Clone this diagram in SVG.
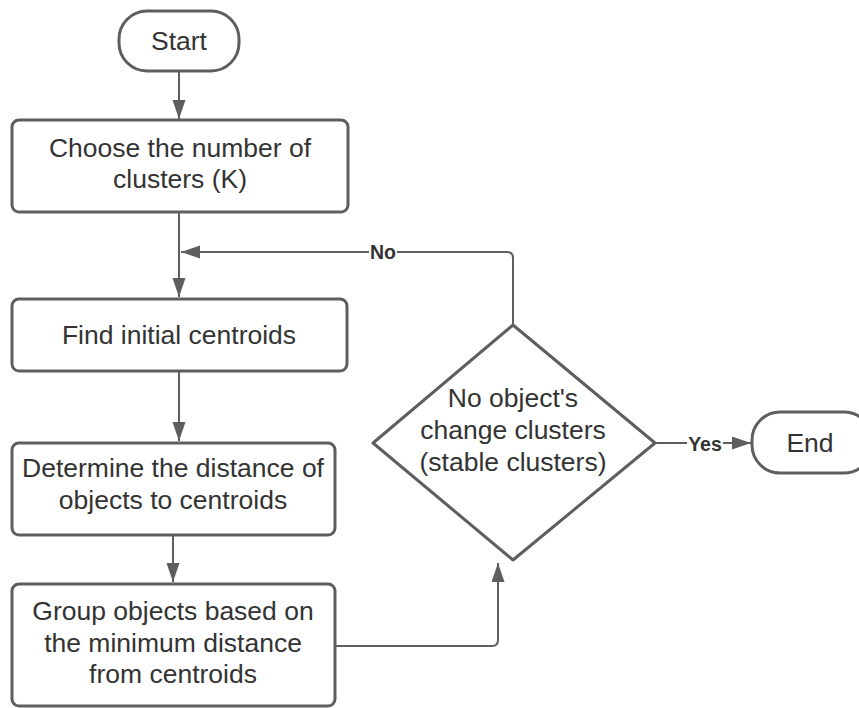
<svg xmlns="http://www.w3.org/2000/svg" width="859" height="708" viewBox="0 0 859 708">
  <style>
    .shape { fill: #ffffff; stroke: #5e5e5e; stroke-width: 3; }
    .label { font-family: "Liberation Sans", Arial, sans-serif; font-size: 26.5px; fill: #333333; text-anchor: middle; }
    .edge { fill: none; stroke: #5e5e5e; stroke-width: 2; }
    .tag { font-family: "Liberation Sans", Arial, sans-serif; font-size: 19.5px; font-weight: bold; fill: #333333; text-anchor: middle; }
    .tagbg { fill: #ffffff; }
  </style>
  <defs>
    <marker id="arrow" markerUnits="userSpaceOnUse" markerWidth="20" markerHeight="14" refX="19" refY="6.5" orient="auto">
      <path d="M0,0 L19,6.5 L0,13 Z" fill="#5e5e5e"/>
    </marker>
  </defs>
  <rect width="859" height="708" fill="#ffffff"/>

  <!-- connectors -->
  <g id="connectors">
    <path class="edge" d="M179,71 V119" marker-end="url(#arrow)"/>
    <path class="edge" d="M179,212 V297" marker-end="url(#arrow)"/>
    <path class="edge" d="M513,325 V258 Q513,252 507,252 H181" marker-end="url(#arrow)"/>
    <path class="edge" d="M179,371 V441" marker-end="url(#arrow)"/>
    <path class="edge" d="M173,535 V582" marker-end="url(#arrow)"/>
    <path class="edge" d="M335,646 H492 Q498,646 498,640 V563" marker-end="url(#arrow)"/>
    <path class="edge" d="M655,443 H751" marker-end="url(#arrow)"/>
    <rect class="tagbg" x="369" y="240" width="28" height="22"/>
    <text class="tag" x="383" y="259">No</text>
    <rect class="tagbg" x="687" y="432" width="36" height="22"/>
    <text class="tag" x="705" y="451">Yes</text>
  </g>

  <g id="start">
    <rect class="shape" x="119" y="11" width="120" height="60" rx="28"/>
    <text class="label" x="179" y="50">Start</text>
  </g>

  <g id="choose-k">
    <rect class="shape" x="12" y="120" width="336" height="92" rx="7"/>
    <text class="label" x="180" y="157">Choose the number of</text>
    <text class="label" x="180" y="188">clusters (K)</text>
  </g>

  <g id="initial-centroids">
    <rect class="shape" x="12" y="299" width="335" height="72" rx="7"/>
    <text class="label" x="179" y="344">Find initial centroids</text>
  </g>

  <g id="distance">
    <rect class="shape" x="12" y="443" width="323" height="92" rx="7"/>
    <text class="label" x="173" y="477">Determine the distance of</text>
    <text class="label" x="173" y="509">objects to centroids</text>
  </g>

  <g id="group">
    <rect class="shape" x="12" y="584" width="323" height="122" rx="7"/>
    <text class="label" x="173" y="620">Group objects based on</text>
    <text class="label" x="173" y="652">the minimum distance</text>
    <text class="label" x="173" y="683">from centroids</text>
  </g>

  <g id="stable-check">
    <path class="shape" stroke-linejoin="round" d="M513,325 L655,443 L513,560 L373,443 Z"/>
    <text class="label" x="513" y="407">No object's</text>
    <text class="label" x="513" y="439">change clusters</text>
    <text class="label" x="513" y="471">(stable clusters)</text>
  </g>

  <g id="end">
    <rect class="shape" x="752" y="412" width="120" height="61" rx="28"/>
    <text class="label" x="810" y="452">End</text>
  </g>
</svg>
